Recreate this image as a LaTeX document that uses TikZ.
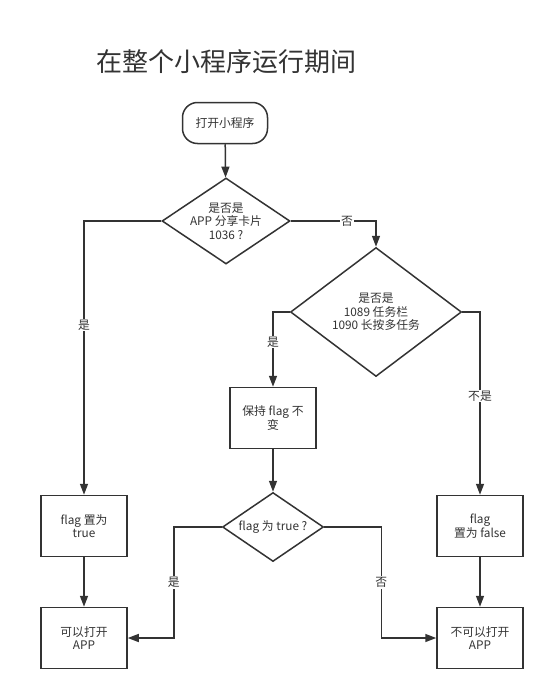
\documentclass[tikz,border=0pt]{standalone}
\usepackage{fontspec}
\setmainfont{Noto Sans CJK SC}
\usepackage{xcolor}
\usepackage{tikz}
\usetikzlibrary{arrows.meta,positioning,shapes.geometric,calc}

\definecolor{ink}{HTML}{333333}

\begin{document}
\begin{tikzpicture}[
x=1pt, y=-1pt,
every node/.style={text=ink, font=\fontsize{11.8}{13.5}\selectfont},
term/.style={draw=ink, line width=1.5pt, rounded corners=15pt, minimum width=85pt, minimum height=41pt, align=center},
proc/.style={draw=ink, line width=1.5pt, minimum width=86pt, minimum height=61pt, align=center},
dec/.style={draw=ink, line width=1.5pt, diamond, aspect=1.5, inner sep=0pt, align=center},
lbl/.style={fill=white, inner sep=1pt},
arr/.style={-{Triangle[length=11pt,width=8pt]}, draw=ink, line width=1.5pt}
]
\useasboundingbox (0,0) rectangle (550,696);

\node[font=\fontsize{26}{29}\selectfont] (title) at (226,62) {在整个小程序运行期间};

\node[term] (start) at (225,123) {打开小程序};
\node[dec, minimum width=128pt, minimum height=86pt] (share) at (226,221) {是否是\\APP 分享卡片\\1036 ?};
\node[dec, minimum width=171pt, minimum height=129pt] (task) at (376,312) {是否是\\1089 任务栏\\1090 长按多任务};
\node[proc] (keep) at (273,418) {保持 flag 不\\变};
\node[dec, minimum width=101pt, minimum height=69pt] (check) at (273,527) {flag 为 true ?};
\node[proc] (settrue) at (84,526) {flag 置为\\true};
\node[proc] (setfalse) at (480,526) {flag\\置为 false};
\node[proc] (open) at (84,638) {可以打开\\APP};
\node[proc] (noopen) at (480,638) {不可以打开\\APP};

\draw[arr] (start) -- (share);
\draw[arr] (share.east) -| node[lbl, pos=0.33]{否} (task.north);
\draw[arr] (share.west) -| node[lbl, pos=0.69]{是} (settrue.north);
\draw[arr] (task.west) -| node[lbl, pos=0.70]{是} (keep.north);
\draw[arr] (task.east) -| node[lbl, pos=0.73]{不是} (setfalse.north);
\draw[arr] (keep) -- (check);
\draw[arr] (settrue) -- (open);
\draw[arr] (setfalse) -- (noopen);
\draw[arr] (check.west) -- ++(-48,0) |- node[lbl, pos=0.25]{是} (open.east);
\draw[arr] (check.east) -- ++(57,0) |- node[lbl, pos=0.25]{否} (noopen.west);
\end{tikzpicture}
\end{document}
